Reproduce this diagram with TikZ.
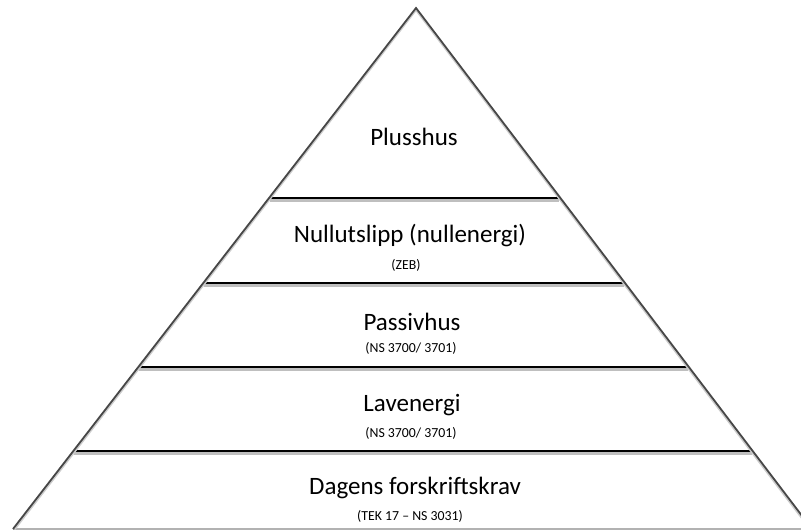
\documentclass[tikz,border=0pt]{standalone}
\usepackage{fontspec}
\setmainfont{Carlito}
\usetikzlibrary{calc}
\begin{document}
\begin{tikzpicture}[x=1pt,y=-1pt,
  side/.style={draw=black!72,line width=1.8pt},
  sideshadow/.style={draw=black!20,line width=2.5pt},
  level/.style={draw=black,line width=1.3pt},
  shadowline/.style={draw=black!25,line width=3pt},
  base/.style={draw=black!30,line width=1.2pt},
  big/.style={font=\fontsize{25}{30}\selectfont,inner sep=0pt,anchor=center},
  small/.style={font=\fontsize{13.8}{16}\selectfont,inner sep=0pt,anchor=center}]
\useasboundingbox (0,0) rectangle (801,530);
\clip (0,0) rectangle (801,530);
% pyramid corner points
\coordinate (A) at (416,8);
\coordinate (L) at (13,529);
\coordinate (R) at (812,529);
% levels
\foreach \y/\n in {198/1,283/2,367/3,451/4}{
  \coordinate (l\n) at ($(A)!{(\y-8)/521}!(L)$);
  \coordinate (r\n) at ($(A)!{(\y-8)/521}!(R)$);
}
% shadows of levels
\foreach \n in {1,2,3,4}{
  \draw[shadowline] ($(l\n)+(1,2.5)$) -- ($(r\n)+(-1,2.5)$);
}
\foreach \n in {1,2,3,4}{
  \draw[level] (l\n) -- (r\n);
}
% base
\draw[base] (L) -- (R);
% sides
\draw[sideshadow] ($(L)+(1.5,0)$) -- ($(A)+(0,1.5)$) -- ($(R)+(-1.5,0)$);
\draw[side,line join=miter] (L) -- (A) -- (R);
% labels
\node[big] (t1) at (414,137) {Plusshus};
\node[big] (t2) at (410,236) {Nullutslipp (nullenergi)};
\node[small] (s2) at (406,265) {(ZEB)};
\node[big] (t3) at (412,322) {Passivhus};
\node[small] (s3) at (411,348) {(NS 3700/ 3701)};
\node[big] (t4) at (412,405) {Lavenergi};
\node[small] (s4) at (411,433) {(NS 3700/ 3701)};
\node[big] (t5) at (415,488) {Dagens forskriftskrav};
\node[small] (s5) at (410,516) {(TEK 17 – NS 3031)};
\end{tikzpicture}
\end{document}
